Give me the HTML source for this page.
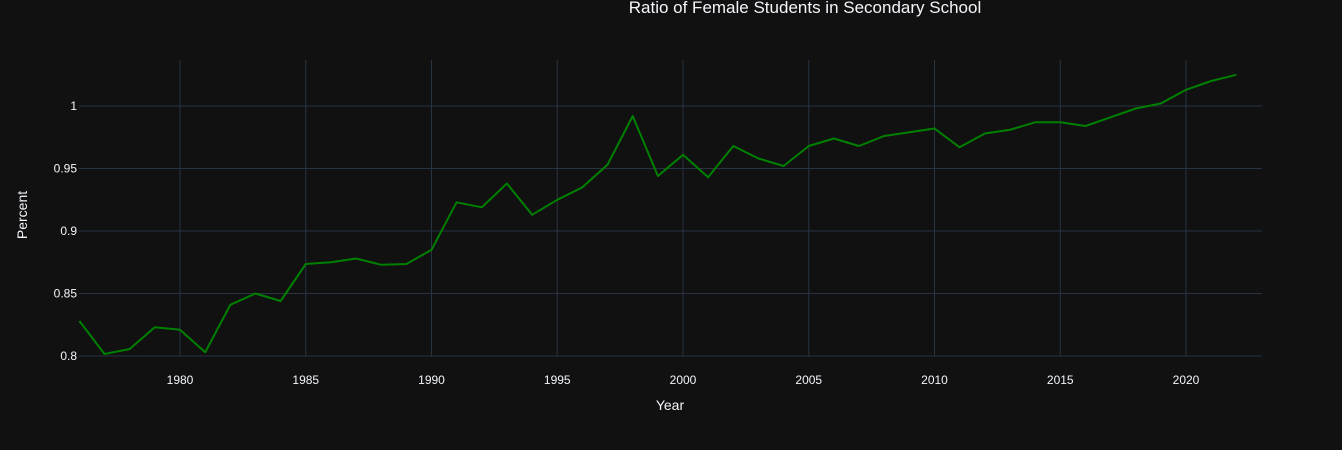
<!DOCTYPE html>
<html><head><meta charset="utf-8"><style>
html,body{margin:0;padding:0;background:#111111;}
svg{display:block;font-family:"Liberation Sans",sans-serif;}
</style></head><body>
<svg id="chart" width="1342" height="450">
<rect width="1342" height="450" fill="#111111"/>
<text x="805" y="13" fill="#f2f5fa" font-size="17" text-anchor="middle">Ratio of Female Students in Secondary School</text>
<g id="grid"></g>
<g id="ticks"></g>
<text x="670" y="410" fill="#f2f5fa" font-size="14" text-anchor="middle">Year</text>
<text transform="translate(27,215) rotate(-90)" fill="#f2f5fa" font-size="14" text-anchor="middle">Percent</text>
<g id="series"></g>
</svg>
<script>
const years = [];
for (let y = 1976; y <= 2022; y++) years.push(y);
const values = [0.828,0.8016,0.8056,0.823,0.821,0.803,0.841,0.850,0.844,0.8736,0.875,0.878,0.873,0.8736,0.885,0.923,0.919,0.938,0.913,0.925,0.935,0.953,0.992,0.944,0.961,0.943,0.968,0.958,0.952,0.968,0.974,0.968,0.976,0.979,0.982,0.967,0.978,0.981,0.987,0.987,0.984,0.991,0.998,1.002,1.013,1.020,1.025];
const xTicks = [1980,1985,1990,1995,2000,2005,2010,2015,2020];
const yTicks = [0.8,0.85,0.9,0.95,1];
const yTickLabels = ["0.8","0.85","0.9","0.95","1"];

const L=79, R=1262, T=60, B=356;
const x = v => 180 + (v - 1980) * (1186 - 180) / 40;
const y = v => 356 - (v - 0.8) * 1250;
const NS = "http://www.w3.org/2000/svg";
const grid = document.getElementById('grid');
const ticks = document.getElementById('ticks');
function mk(tag, attrs, parent){const e=document.createElementNS(NS,tag);for(const k in attrs)e.setAttribute(k,attrs[k]);parent.appendChild(e);return e;}

xTicks.forEach(t=>{
  const l = mk('line',{x1:x(t),x2:x(t),y1:T,y2:B,stroke:'#283442','stroke-width':1},grid);
  
  
  const tx = mk('text',{x:x(t),y:384,fill:'#f2f5fa','font-size':12,'text-anchor':'middle'},ticks);
  tx.textContent = t;
  
  
});
yTicks.forEach((t,i)=>{
  const l = mk('line',{x1:L,x2:R,y1:y(t),y2:y(t),stroke:'#283442','stroke-width':1},grid);
  
  
  const tx = mk('text',{x:77,y:y(t)+4,fill:'#f2f5fa','font-size':12,'text-anchor':'end'},ticks);
  tx.textContent = yTickLabels[i];
  
  
});
const pts = years.map((yr,i)=>x(yr).toFixed(1)+','+y(values[i]).toFixed(1)).join(' ');
const line = mk('polyline',{points:pts,fill:'none',stroke:'#008000','stroke-width':2,'stroke-linejoin':'round'},document.getElementById('series'));


</script>
</body></html>
